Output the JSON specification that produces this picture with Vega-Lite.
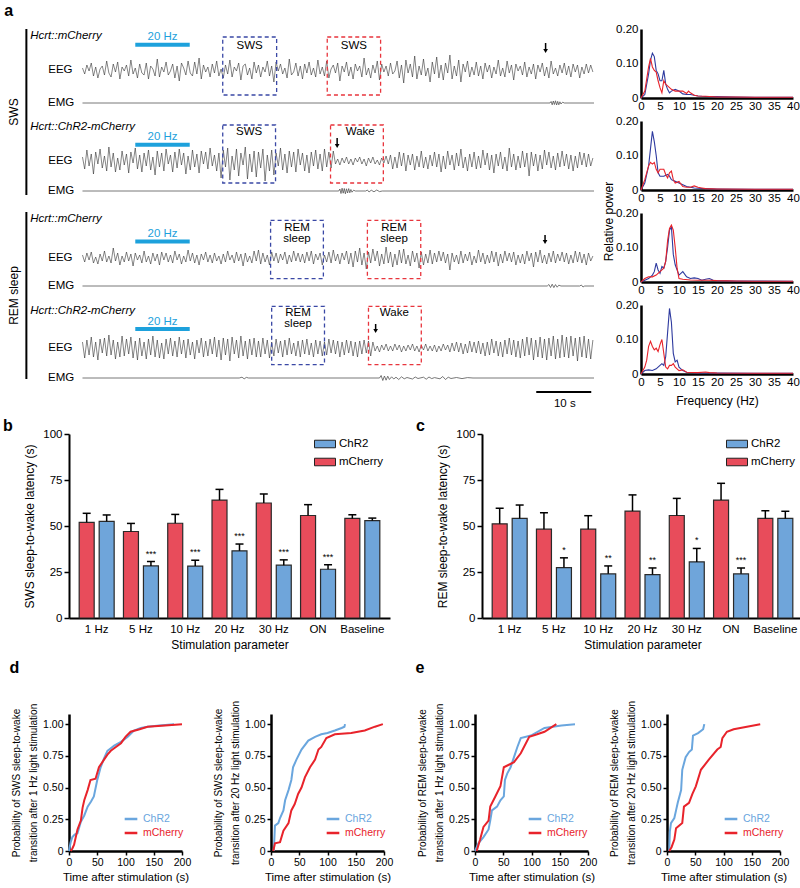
{
"$schema":"https://vega.github.io/schema/vega-lite/v6.json",
"background":"white",
"padding":{"left":3,"top":3,"right":0,"bottom":0},
"config":{"font":"Liberation Sans","view":{"stroke":null},
"axis":{"labelFontSize":11.5,"titleFontSize":11.5,"titleFontWeight":"normal","labelColor":"#000","titleColor":"#000","domainColor":"#000","tickColor":"#000","grid":false},
"legend":{"labelFontSize":11.5,"labelColor":"#000"},
"title":{"fontSize":16,"fontWeight":"bold","anchor":"start","color":"#000"}},
"datasets":{
"eeg":[{"t":[0,0.4,0.8,1.2,1.6,2,2.4,2.8,3.2,3.6,4,4.4,4.8,5.2,5.6,6,6.4,6.8,7.2,7.6,8,8.4,8.8,9.2,9.6,10,10.4,10.8,11.2,11.6,12,12.4,12.8,13.2,13.6,14,14.4,14.8,15.2,15.6,16,16.4,16.8,17.2,17.6,18,18.4,18.8,19.2,19.6,20,20.4,20.8,21.2,21.6,22,22.4,22.8,23.2,23.6,24,24.4,24.8,25.2,25.6,26,26.4,26.8,27.2,27.6,28,28.4,28.8,29.2,29.6,30,30.4,30.8,31.2,31.6,32,32.4,32.8,33.2,33.6,34,34.4,34.8,35.2,35.6,36,36.4,36.8,37.2,37.6,38,38.4,38.8,39.2,39.6,40,40.4,40.8,41.2,41.6,42,42.4,42.8,43.2,43.6,44,44.4,44.8,45.2,45.6,46,46.4,46.8,47.2,47.6,48,48.4,48.8,49.2,49.6,50,50.4,50.8,51.2,51.6,52,52.4,52.8,53.2,53.6,54,54.4,54.8,55.2,55.6,56,56.4,56.8,57.2,57.6,58,58.4,58.8,59.2,59.6,60,60.4,60.8,61.2,61.6,62,62.4,62.8,63.2,63.6,64,64.4,64.8,65.2,65.6,66,66.4,66.8,67.2,67.6,68,68.4,68.8,69.2,69.6,70,70.4,70.8,71.2,71.6,72,72.4,72.8,73.2,73.6,74,74.4,74.8,75.2,75.6,76,76.4,76.8,77.2,77.6,78,78.4,78.8,79.2,79.6,80,80.4,80.8,81.2,81.6,82,82.4,82.8,83.2,83.6,84,84.4,84.8,85.2,85.6,86,86.4,86.8,87.2,87.6,88,88.4,88.8,89.2,89.6,90,90.4,90.8,91.2,91.6,92,92.4,92.8],
"e1":[2,-4,5,-1,7,-6,3,-8,1,4,-5,9,-3,-7,6,-2,8,-9,3,-1,5,-6,10,-4,2,-8,6,-3,-5,7,-9,4,1,-6,11,-7,3,-2,8,-5,-1,6,-8,4,-11,7,2,-5,9,-3,-6,8,-4,12,-9,5,-2,3,-7,6,-3,9,-6,1,-8,5,-4,10,-7,3,-1,7,-10,4,6,-5,2,-9,8,-3,5,-7,3,-2,9,-6,4,-12,8,-1,6,-4,2,-8,11,-5,-2,7,-6,4,-9,6,-3,8,-5,2,-7,10,-4,3,-6,9,-8,1,5,-3,7,-11,4,-2,8,-6,3,-9,6,-1,4,-7,12,-5,2,-8,5,-3,9,-10,6,-2,4,-6,7,-4,-1,9,-8,5,-13,10,-3,6,-7,14,-9,4,-5,11,-6,2,-12,8,-4,13,-8,5,-10,7,-3,15,-9,4,-6,10,-12,6,-2,9,-7,3,-5,8,-6,4,-9,7,-2,5,-8,3,-4,10,-6,2,-7,9,-3,5,-10,6,-1,4,-5,8,-7,3,-4,6,-9,5,-2,7,-6,3,-8,9,-4,2,-6,5,-3,7,-5,4,-7,6,-2,5,-8,3,-4,6,-3,5,-2],
"e2":[4,-8,11,-5,7,-13,9,-3,12,-7,5,-10,14,-6,8,-11,3,-9,10,-4,7,-12,9,-2,13,-8,6,-11,8,-5,11,-9,4,-14,10,-6,8,-10,12,-3,6,-11,9,-7,12,-4,8,-13,5,-9,11,-6,7,-12,10,-3,9,-8,13,-5,6,-10,8,-17,11,-6,13,-19,5,-9,12,-15,8,-4,14,-18,7,-11,10,-16,9,-7,12,-20,6,-10,11,-14,8,-5,13,-9,7,-12,10,-6,9,-11,12,-4,8,-10,6,-12,9,-5,11,-8,7,-10,12,-6,9,-7,10,-3,2,-4,3,-2,4,-3,2,-4,3,-1,4,-3,2,-5,3,-2,4,-3,1,-4,3,-2,5,-3,6,-8,4,-7,9,-5,8,-10,6,-4,7,-9,5,-6,10,-7,4,-8,6,-5,9,-6,7,-11,5,-8,10,-4,6,-9,8,-5,12,-7,4,-10,7,-6,9,-8,5,-7,11,-4,8,-9,6,-12,7,-5,9,-8,4,-10,13,-6,7,-9,5,-7,10,-6,8,-15,9,-5,7,-10,6,-8,11,-4,9,-7,5,-9,8,-6,10,-5,7,-8,6,-10,5,-7,9,-4,8,-6,7,-5,3],
"e3":[3,-4,5,-2,6,-5,1,-6,4,-3,7,-4,2,-5,10,-3,5,-7,2,-4,6,-3,4,-8,5,-2,3,-5,7,-4,2,-6,5,-3,4,-7,6,-2,5,-4,3,-5,7,-2,4,-6,2,-4,8,-3,5,-5,3,-7,4,-2,6,-4,3,-5,5,-3,2,-6,4,-4,7,-2,3,-5,6,-3,4,-8,5,-4,2,-5,7,-3,8,-6,5,-4,3,-7,6,-3,5,-5,4,-2,6,-6,3,-4,7,-3,5,-4,4,-5,6,-3,7,-6,4,-2,5,-7,3,-4,6,-5,8,-3,4,-6,5,-2,7,-6,5,-9,7,-4,10,-7,5,-11,6,-5,9,-3,7,-8,4,-6,11,-5,6,-9,4,-7,8,-5,9,-6,3,-8,7,-4,5,-10,6,-7,4,-5,8,-6,5,-4,7,-3,6,-5,4,-12,5,-4,3,-6,7,-5,4,-3,6,-7,2,-5,8,-4,5,-6,3,-5,7,-4,6,-8,4,-5,7,-3,5,-4,6,-7,3,-5,4,-6,7,-3,5,-9,6,-4,8,-5,3,-6,5,-4,7,-5,4,-3,6,-4,5,-6,3,-5,7,-4,6,-5,4,-7,5,-3,2],
"e4":[6,-10,8,-7,11,-9,6,-12,9,-5,10,-8,13,-7,8,-11,6,-9,12,-8,9,-6,11,-10,7,-12,10,-8,6,-11,9,-7,12,-9,8,-10,5,-11,9,-6,10,-8,7,-9,11,-6,8,-10,9,-7,6,-11,8,-5,10,-9,7,-8,9,-6,11,-9,8,-12,10,-7,9,-13,11,-6,8,-10,12,-8,7,-11,9,-7,10,-9,7,-9,10,-6,8,-10,6,-8,9,-5,7,-9,8,-7,10,-6,5,-8,7,-9,8,-6,9,-7,5,-9,8,-6,7,-8,6,-7,9,-5,8,-6,7,-9,6,-7,8,-5,7,-8,6,-9,7,-6,8,-5,7,-8,6,-3,2,-4,3,-2,4,-3,2,-3,4,-2,3,-4,2,-3,3,-2,4,-3,2,-4,3,-2,4,-3,2,-3,3,-4,2,-3,4,-2,3,-4,5,-3,6,-4,5,-6,4,-5,7,-4,6,-5,7,-6,5,-8,6,-7,9,-5,7,-8,6,-9,8,-6,10,-7,8,-9,7,-10,9,-8,11,-7,10,-12,8,-9,11,-10,9,-12,10,-8,12,-11,9,-10,13,-9,11,-10,12,-8,10,-13,11,-9,12,-10,9,-11,8]}],
"emg":[
{"k":"m1","t":[0,85,85.2,85.4,85.6,85.8,86,86.2,86.4,86.6,86.8,87,87.3,87.6,93],"v":[0,0,1.5,-1.8,2,-1.5,2.2,-2,1.6,-1.8,1.2,-1,0.8,0,0]},
{"k":"m2","t":[0,46.6,46.8,47,47.2,47.4,47.6,47.8,48,48.2,48.4,48.6,48.8,49,49.3,49.6,51.5,51.8,52.1,52.5,53,53.5,54,54.5,93],"v":[0,0,2,-2.5,2.8,-2.2,2.5,-2.8,2.2,-2,2.4,-1.8,1.5,-1.2,0.8,0,0,1,-1,0.8,-0.8,1,-0.6,0,0]},
{"k":"m3","t":[0,84.5,84.8,85.1,85.4,85.7,86,86.3,86.6,87,90.4,90.7,91,91.3,93],"v":[0,0,1.5,-1.5,1.8,-1.6,1.4,-1.2,0.8,0,0,1,-1,0,0]},
{"k":"m4","t":[0,28.5,29,29.4,29.8,30.2,54,54.3,54.6,54.9,55.2,55.5,55.8,56.2,56.6,57,57.5,58,58.5,59,60,60.5,61,62,62.5,63,63.5,64,65,65.5,66,66.5,67,68,69,70,71,93],"v":[0,0,0.8,-0.8,0.6,0,0,2.5,-2.5,2,-2.2,1.8,-1.5,1.2,-1,0.8,-1.5,1.2,-0.8,0.5,-1,1,-0.5,0.8,-1.2,1,-0.6,0.4,-0.8,1.5,-1.5,0.8,-0.5,0.5,-0.6,0.4,0,0]}],
"spec":[
{"p":1,"s":"pre","f":[0,1,2,2.5,3,3.5,4,4.5,5,5.5,6,6.5,7,7.5,8,9,10,11,12,13,14,15,16,18,20,25,30,35,40],"v":[0,0.01,0.07,0.11,0.13,0.12,0.08,0.07,0.05,0.05,0.08,0.04,0.025,0.015,0.02,0.025,0.02,0.012,0.01,0.01,0.008,0.006,0.005,0.004,0.004,0.003,0.002,0.002,0.002]},
{"p":1,"s":"post","f":[0,1,2,2.5,3,3.5,4,4.5,5,5.5,6,6.5,7,8,9,10,11,12,12.5,13,14,15,17,20,25,30,40],"v":[0,0.02,0.09,0.115,0.09,0.08,0.075,0.05,0.03,0.015,0.05,0.04,0.035,0.025,0.02,0.02,0.02,0.013,0.02,0.015,0.008,0.006,0.005,0.003,0.003,0.002,0.002]},
{"p":2,"s":"pre","f":[0,1,2,2.5,3,3.5,4,4.5,5,5.5,6,7,7.5,8,9,10,11,12,13,14,15,17,20,30,40],"v":[0,0.02,0.07,0.12,0.17,0.14,0.1,0.05,0.04,0.04,0.04,0.045,0.04,0.03,0.025,0.02,0.015,0.01,0.008,0.006,0.005,0.004,0.003,0.002,0.002]},
{"p":2,"s":"post","f":[0,1,2,2.5,3,3.5,4,4.5,5,6,6.5,7,7.5,8,8.5,9,10,11,12,13,14,15,16,17,20,30,40],"v":[0,0.03,0.07,0.08,0.075,0.08,0.06,0.05,0.06,0.06,0.045,0.035,0.05,0.055,0.03,0.02,0.025,0.01,0.008,0.008,0.012,0.008,0.006,0.004,0.003,0.002,0.002]},
{"p":3,"s":"pre","f":[0,1,2,3,3.5,4,4.5,5,5.5,6,6.5,7,7.5,8,8.5,9,10,11,12,13,14,15,16,17,18,19,20,25,30,40],"v":[0,0.005,0.01,0.02,0.03,0.055,0.035,0.025,0.045,0.04,0.06,0.1,0.15,0.16,0.08,0.05,0.02,0.03,0.015,0.01,0.012,0.01,0.005,0.008,0.01,0.005,0.004,0.003,0.003,0.002]},
{"p":3,"s":"post","f":[0,1,2,3,4,5,6,6.5,7,7.5,8,8.5,9,9.5,10,11,13,15,18,20,25,30,40],"v":[0,0.01,0.015,0.015,0.02,0.03,0.04,0.06,0.12,0.155,0.165,0.15,0.1,0.04,0.01,0.008,0.006,0.005,0.005,0.004,0.003,0.002,0.002]},
{"p":4,"s":"pre","f":[0,1,2,3,4,5,5.5,6,6.5,7,7.5,8,8.5,9,9.5,10,11,12,15,20,30,40],"v":[0,0.01,0.012,0.01,0.015,0.025,0.03,0.025,0.05,0.12,0.19,0.15,0.06,0.035,0.04,0.02,0.01,0.005,0.003,0.003,0.002,0.002]},
{"p":4,"s":"post","f":[0,1,1.5,2,2.5,3,3.5,4,4.5,5,5.5,6,6.5,7,7.5,8,8.5,9,10,11,12,15,17,18,20,30,40],"v":[0,0.02,0.04,0.08,0.095,0.08,0.07,0.075,0.065,0.085,0.1,0.06,0.02,0.015,0.025,0.025,0.03,0.02,0.01,0.012,0.005,0.004,0.006,0.004,0.003,0.002,0.002]}],
"ecdf":[
{"p":"d1","s":"ChR2","t":[0,3,6,10,15,21,27,33,39,44,50,56,62,68,74,80,92,104,115,127,139,160,186],"v":[0,0.07,0.11,0.13,0.14,0.23,0.28,0.35,0.39,0.43,0.56,0.66,0.73,0.79,0.81,0.83,0.86,0.9,0.95,0.97,0.98,0.99,1.0]},
{"p":"d1","s":"mCherry","t":[3,6,9,15,21,24,27,33,38,47,53,62,68,74,83,92,100,109,125,139,170,200],"v":[0,0.02,0.05,0.17,0.24,0.34,0.4,0.48,0.56,0.57,0.66,0.72,0.76,0.79,0.82,0.85,0.9,0.94,0.96,0.98,0.99,1.0]},
{"p":"d2","s":"ChR2","t":[5,6,7,13,16,22,25,31,36,39,45,54,66,78,89,100,113,125,130,131],"v":[0,0.1,0.2,0.22,0.26,0.32,0.4,0.48,0.56,0.66,0.72,0.8,0.87,0.9,0.92,0.93,0.95,0.97,0.98,1.0]},
{"p":"d2","s":"mCherry","t":[4,7,16,22,31,36,42,48,54,60,69,78,84,89,98,113,142,166,184,198],"v":[0,0.06,0.07,0.16,0.22,0.32,0.37,0.45,0.5,0.58,0.66,0.72,0.8,0.82,0.89,0.92,0.93,0.95,0.98,1.0]},
{"p":"e1","s":"ChR2","t":[0,6,15,24,27,30,39,45,51,53,57,63,69,75,81,99,123,153,177],"v":[0,0.06,0.11,0.17,0.24,0.32,0.35,0.4,0.43,0.56,0.61,0.66,0.74,0.82,0.89,0.91,0.97,0.99,1.0]},
{"p":"e1","s":"mCherry","t":[3,9,15,24,27,36,45,51,60,69,81,96,110,123,144],"v":[0,0.09,0.19,0.24,0.35,0.43,0.51,0.66,0.68,0.7,0.77,0.9,0.92,0.94,1.0]},
{"p":"e2","s":"ChR2","t":[4,5,7,13,16,19,25,27,33,39,44,46,55,64,66],"v":[0,0.15,0.22,0.26,0.32,0.38,0.48,0.64,0.74,0.78,0.8,0.91,0.93,0.96,1.0]},
{"p":"e2","s":"mCherry","t":[4,8,13,16,27,30,39,45,51,60,74,89,95,98,106,118,165],"v":[0,0.03,0.09,0.18,0.22,0.35,0.38,0.45,0.51,0.64,0.72,0.8,0.82,0.89,0.94,0.96,1.0]}]
},
"columns":1,"align":"none","spacing":8,
"resolve":{"scale":{"color":"independent","stroke":"independent"},"legend":{"color":"independent","stroke":"independent"}},
"concat":[
{"title":{"text":"a","dx":-4},"spacing":6,
 "resolve":{"scale":{"color":"independent","stroke":"independent"},"legend":{"color":"independent","stroke":"independent"}},
 "hconcat":[
 {"spacing":17,"bounds":"flush","vconcat":[
  {"width":525,"height":166,"resolve":{"scale":{"y":"independent"}},"layer":[
   {"encoding":{"x":{"field":"t","type":"quantitative","scale":{"domain":[-2.45,93]},"axis":null},"y":{"field":"v","type":"quantitative","scale":{"domain":[-125,41]},"axis":null}},
    "layer":[
     {"data":{"name":"eeg"},"transform":[{"flatten":["t","e1","e2","e3","e4"]},{"fold":["e1","e2","e3","e4"],"as":["k","v"]},{"filter":"datum.k==='e1'"}],"mark":{"type":"line","color":"#333","strokeWidth":0.6}},
     {"data":{"values":[{"t":-10.2,"v":41,"v2":-125}]},"mark":{"type":"rule","strokeWidth":2,"color":"#000"},"encoding":{"y2":{"field":"v2"}}},
     {"data":{"values":[{"t":-12.4,"v":-42,"l":"SWS"}]},"mark":{"type":"text","angle":270,"fontSize":12},"encoding":{"text":{"field":"l"}}},
     {"data":{"values":[{"t":25.5,"t2":35.3,"v":33,"v2":-25,"w":"pre"},{"t":44.5,"t2":54.2,"v":33,"v2":-25,"w":"post"}]},"mark":{"type":"rect","fillOpacity":0,"strokeWidth":1.3,"strokeDash":[4,3]},"encoding":{"x2":{"field":"t2"},"y2":{"field":"v2"},"stroke":{"field":"w","type":"nominal","scale":{"domain":["pre","post"],"range":["#3A48A5","#E8353D"]},"legend":null}}},
     {"data":{"values":[{"t":30.4,"v":24.5,"l":"SWS"},{"t":49.35,"v":24.5,"l":"SWS"}]},"mark":{"type":"text","fontSize":11.5},"encoding":{"text":{"field":"l"}}},
     {"data":{"values":[{"t":-9.5,"v":34,"l":"Hcrt::mCherry"}]},"mark":{"type":"text","align":"left","fontStyle":"italic","fontSize":11.5},"encoding":{"text":{"field":"l"}}},
     {"data":{"values":[{"t":-1.8,"v":0,"l":"EEG"}]},"mark":{"type":"text","align":"right","fontSize":11.5},"encoding":{"text":{"field":"l"}}},
     {"data":{"values":[{"t":9.6,"t2":19.5,"v":25.3}]},"mark":{"type":"rule","strokeWidth":4,"color":"#1DA1DC"},"encoding":{"x2":{"field":"t2"}}},
     {"data":{"values":[{"t":14.55,"v":33,"l":"20 Hz"}]},"mark":{"type":"text","fontSize":11.5,"color":"#1DA1DC"},"encoding":{"text":{"field":"l"}}},
     {"data":{"values":[{"t":84.2,"v":27,"v2":20}]},"mark":{"type":"rule","strokeWidth":1.5,"color":"#000"},"encoding":{"y2":{"field":"v2"}}},
     {"data":{"values":[{"t":84.2,"v":19}]},"mark":{"type":"point","shape":"triangle-down","filled":true,"size":22,"color":"#000","opacity":1}}
    ]},
   {"encoding":{"x":{"field":"t","type":"quantitative","scale":{"domain":[-2.45,93]},"axis":null},"y":{"field":"v","type":"quantitative","scale":{"domain":[-92,74]},"axis":null}},
    "layer":[
     {"data":{"name":"emg"},"transform":[{"filter":"datum.k==='m1'"},{"flatten":["t","v"]}],"mark":{"type":"line","color":"#555","strokeWidth":0.8}},
     {"data":{"values":[{"t":-1.5,"v":0,"l":"EMG"}]},"mark":{"type":"text","align":"right","fontSize":11.5},"encoding":{"text":{"field":"l"}}}
    ]},
   {"encoding":{"x":{"field":"t","type":"quantitative","scale":{"domain":[-2.45,93]},"axis":null},"y":{"field":"v","type":"quantitative","scale":{"domain":[-34,132]},"axis":null}},
    "layer":[
     {"data":{"name":"eeg"},"transform":[{"flatten":["t","e1","e2","e3","e4"]},{"fold":["e1","e2","e3","e4"],"as":["k","v"]},{"filter":"datum.k==='e2'"}],"mark":{"type":"line","color":"#333","strokeWidth":0.6}},
     {"data":{"values":[{"t":25.5,"t2":35.1,"v":36,"v2":-22,"w":"pre"},{"t":45.1,"t2":54.7,"v":36,"v2":-22,"w":"post"}]},"mark":{"type":"rect","fillOpacity":0,"strokeWidth":1.3,"strokeDash":[4,3]},"encoding":{"x2":{"field":"t2"},"y2":{"field":"v2"},"stroke":{"field":"w","type":"nominal","scale":{"domain":["pre","post"],"range":["#3A48A5","#E8353D"]},"legend":null}}},
     {"data":{"values":[{"t":30.3,"v":29,"l":"SWS"},{"t":50.5,"v":29,"l":"Wake"}]},"mark":{"type":"text","fontSize":11.5},"encoding":{"text":{"field":"l"}}},
     {"data":{"values":[{"t":-9.5,"v":34,"l":"Hcrt::ChR2-mCherry"}]},"mark":{"type":"text","align":"left","fontStyle":"italic","fontSize":11.5},"encoding":{"text":{"field":"l"}}},
     {"data":{"values":[{"t":-1.8,"v":0,"l":"EEG"}]},"mark":{"type":"text","align":"right","fontSize":11.5},"encoding":{"text":{"field":"l"}}},
     {"data":{"values":[{"t":9.6,"t2":19.5,"v":16.3}]},"mark":{"type":"rule","strokeWidth":4,"color":"#1DA1DC"},"encoding":{"x2":{"field":"t2"}}},
     {"data":{"values":[{"t":14.55,"v":24,"l":"20 Hz"}]},"mark":{"type":"text","fontSize":11.5,"color":"#1DA1DC"},"encoding":{"text":{"field":"l"}}},
     {"data":{"values":[{"t":46.3,"v":23,"v2":16}]},"mark":{"type":"rule","strokeWidth":1.5,"color":"#000"},"encoding":{"y2":{"field":"v2"}}},
     {"data":{"values":[{"t":46.3,"v":15}]},"mark":{"type":"point","shape":"triangle-down","filled":true,"size":22,"color":"#000","opacity":1}}
    ]},
   {"encoding":{"x":{"field":"t","type":"quantitative","scale":{"domain":[-2.45,93]},"axis":null},"y":{"field":"v","type":"quantitative","scale":{"domain":[-4,162]},"axis":null}},
    "layer":[
     {"data":{"name":"emg"},"transform":[{"filter":"datum.k==='m2'"},{"flatten":["t","v"]}],"mark":{"type":"line","color":"#555","strokeWidth":0.8}},
     {"data":{"values":[{"t":-1.5,"v":0,"l":"EMG"}]},"mark":{"type":"text","align":"right","fontSize":11.5},"encoding":{"text":{"field":"l"}}}
    ]}
  ]},
  {"width":525,"height":167,"resolve":{"scale":{"y":"independent"}},"layer":[
   {"encoding":{"x":{"field":"t","type":"quantitative","scale":{"domain":[-2.45,93]},"axis":null},"y":{"field":"v","type":"quantitative","scale":{"domain":[-121,46]},"axis":null}},
    "layer":[
     {"data":{"name":"eeg"},"transform":[{"flatten":["t","e1","e2","e3","e4"]},{"fold":["e1","e2","e3","e4"],"as":["k","v"]},{"filter":"datum.k==='e3'"}],"mark":{"type":"line","color":"#333","strokeWidth":0.6}},
     {"data":{"values":[{"t":-10.2,"v":46,"v2":-121}]},"mark":{"type":"rule","strokeWidth":2,"color":"#000"},"encoding":{"y2":{"field":"v2"}}},
     {"data":{"values":[{"t":-12.4,"v":-37.5,"l":"REM sleep"}]},"mark":{"type":"text","angle":270,"fontSize":12},"encoding":{"text":{"field":"l"}}},
     {"data":{"values":[{"t":34.2,"t2":43.8,"v":37.7,"v2":-20.7,"w":"pre"},{"t":51.8,"t2":61.5,"v":37.7,"v2":-20.7,"w":"post"}]},"mark":{"type":"rect","fillOpacity":0,"strokeWidth":1.3,"strokeDash":[4,3]},"encoding":{"x2":{"field":"t2"},"y2":{"field":"v2"},"stroke":{"field":"w","type":"nominal","scale":{"domain":["pre","post"],"range":["#3A48A5","#E8353D"]},"legend":null}}},
     {"data":{"values":[{"t":39,"v":30,"l":"REM"},{"t":39,"v":19,"l":"sleep"},{"t":56.65,"v":30,"l":"REM"},{"t":56.65,"v":19,"l":"sleep"}]},"mark":{"type":"text","fontSize":11.5},"encoding":{"text":{"field":"l"}}},
     {"data":{"values":[{"t":-9.5,"v":39,"l":"Hcrt::mCherry"}]},"mark":{"type":"text","align":"left","fontStyle":"italic","fontSize":11.5},"encoding":{"text":{"field":"l"}}},
     {"data":{"values":[{"t":-1.8,"v":0,"l":"EEG"}]},"mark":{"type":"text","align":"right","fontSize":11.5},"encoding":{"text":{"field":"l"}}},
     {"data":{"values":[{"t":9.6,"t2":19.5,"v":16.5}]},"mark":{"type":"rule","strokeWidth":4,"color":"#1DA1DC"},"encoding":{"x2":{"field":"t2"}}},
     {"data":{"values":[{"t":14.55,"v":24,"l":"20 Hz"}]},"mark":{"type":"text","fontSize":11.5,"color":"#1DA1DC"},"encoding":{"text":{"field":"l"}}},
     {"data":{"values":[{"t":84.1,"v":23,"v2":17}]},"mark":{"type":"rule","strokeWidth":1.5,"color":"#000"},"encoding":{"y2":{"field":"v2"}}},
     {"data":{"values":[{"t":84.1,"v":16}]},"mark":{"type":"point","shape":"triangle-down","filled":true,"size":22,"color":"#000","opacity":1}}
    ]},
   {"encoding":{"x":{"field":"t","type":"quantitative","scale":{"domain":[-2.45,93]},"axis":null},"y":{"field":"v","type":"quantitative","scale":{"domain":[-93,74]},"axis":null}},
    "layer":[
     {"data":{"name":"emg"},"transform":[{"filter":"datum.k==='m3'"},{"flatten":["t","v"]}],"mark":{"type":"line","color":"#555","strokeWidth":0.8}},
     {"data":{"values":[{"t":-1.5,"v":0,"l":"EMG"}]},"mark":{"type":"text","align":"right","fontSize":11.5},"encoding":{"text":{"field":"l"}}}
    ]},
   {"encoding":{"x":{"field":"t","type":"quantitative","scale":{"domain":[-2.45,93]},"axis":null},"y":{"field":"v","type":"quantitative","scale":{"domain":[-31,136]},"axis":null}},
    "layer":[
     {"data":{"name":"eeg"},"transform":[{"flatten":["t","e1","e2","e3","e4"]},{"fold":["e1","e2","e3","e4"],"as":["k","v"]},{"filter":"datum.k==='e4'"}],"mark":{"type":"line","color":"#333","strokeWidth":0.6}},
     {"data":{"values":[{"t":34.4,"t2":44,"v":41.7,"v2":-16.7,"w":"pre"},{"t":52,"t2":61.6,"v":41.7,"v2":-16.7,"w":"post"}]},"mark":{"type":"rect","fillOpacity":0,"strokeWidth":1.3,"strokeDash":[4,3]},"encoding":{"x2":{"field":"t2"},"y2":{"field":"v2"},"stroke":{"field":"w","type":"nominal","scale":{"domain":["pre","post"],"range":["#3A48A5","#E8353D"]},"legend":null}}},
     {"data":{"values":[{"t":39.2,"v":35,"l":"REM"},{"t":39.2,"v":24,"l":"sleep"},{"t":56.7,"v":35,"l":"Wake"}]},"mark":{"type":"text","fontSize":11.5},"encoding":{"text":{"field":"l"}}},
     {"data":{"values":[{"t":-9.5,"v":37,"l":"Hcrt::ChR2-mCherry"}]},"mark":{"type":"text","align":"left","fontStyle":"italic","fontSize":11.5},"encoding":{"text":{"field":"l"}}},
     {"data":{"values":[{"t":-1.8,"v":0,"l":"EEG"}]},"mark":{"type":"text","align":"right","fontSize":11.5},"encoding":{"text":{"field":"l"}}},
     {"data":{"values":[{"t":9.6,"t2":19.5,"v":19}]},"mark":{"type":"rule","strokeWidth":4,"color":"#1DA1DC"},"encoding":{"x2":{"field":"t2"}}},
     {"data":{"values":[{"t":14.55,"v":26.5,"l":"20 Hz"}]},"mark":{"type":"text","fontSize":11.5,"color":"#1DA1DC"},"encoding":{"text":{"field":"l"}}},
     {"data":{"values":[{"t":53.3,"v":24,"v2":18}]},"mark":{"type":"rule","strokeWidth":1.5,"color":"#000"},"encoding":{"y2":{"field":"v2"}}},
     {"data":{"values":[{"t":53.3,"v":17}]},"mark":{"type":"point","shape":"triangle-down","filled":true,"size":22,"color":"#000","opacity":1}},
     {"data":{"values":[{"t":82.5,"t2":92.5,"v":-44}]},"mark":{"type":"rule","strokeWidth":2,"color":"#000"},"encoding":{"x2":{"field":"t2"}}},
     {"data":{"values":[{"t":87.7,"v":-56,"l":"10 s"}]},"mark":{"type":"text","fontSize":11.5},"encoding":{"text":{"field":"l"}}}
    ]},
   {"encoding":{"x":{"field":"t","type":"quantitative","scale":{"domain":[-2.45,93]},"axis":null},"y":{"field":"v","type":"quantitative","scale":{"domain":[-1,166]},"axis":null}},
    "layer":[
     {"data":{"name":"emg"},"transform":[{"filter":"datum.k==='m4'"},{"flatten":["t","v"]}],"mark":{"type":"line","color":"#555","strokeWidth":0.8}},
     {"data":{"values":[{"t":-1.5,"v":0,"l":"EMG"}]},"mark":{"type":"text","align":"right","fontSize":11.5},"encoding":{"text":{"field":"l"}}}
    ]}
  ]}
 ]},
 {"spacing":23,"bounds":"flush","vconcat":[
  {"width":152,"height":69,"data":{"name":"spec"},"transform":[{"filter":"datum.p===1"},{"flatten":["f","v"]}],"mark":{"type":"line","strokeWidth":1.1},
   "encoding":{"x":{"field":"f","type":"quantitative","scale":{"domain":[0,40]},"axis":{"values":[0,5,10,15,20,25,30,35,40],"title":null,"ticks":false,"domainWidth":2.5,"labelPadding":2,"labelFlush":false}},
   "y":{"field":"v","type":"quantitative","scale":{"domain":[0,0.2]},"axis":{"values":[0,0.1,0.2],"labelExpr":"datum.value===0?'0':format(datum.value,'.2f')","title":null,"ticks":false,"domainWidth":2.5,"labelPadding":3,"labelFlush":false}},
   "color":{"field":"s","type":"nominal","scale":{"domain":["pre","post"],"range":["#2E3A9F","#E8232B"]},"legend":null}}},
  {"width":152,"height":69,"data":{"name":"spec"},"transform":[{"filter":"datum.p===2"},{"flatten":["f","v"]}],"mark":{"type":"line","strokeWidth":1.1},
   "encoding":{"x":{"field":"f","type":"quantitative","scale":{"domain":[0,40]},"axis":{"values":[0,5,10,15,20,25,30,35,40],"title":null,"ticks":false,"domainWidth":2.5,"labelPadding":2,"labelFlush":false}},
   "y":{"field":"v","type":"quantitative","scale":{"domain":[0,0.2]},"axis":{"values":[0,0.1,0.2],"labelExpr":"datum.value===0?'0':format(datum.value,'.2f')","title":"Relative power","titleFontSize":12,"titleY":100,"titlePadding":0,"ticks":false,"domainWidth":2.5,"labelPadding":3,"labelFlush":false}},
   "color":{"field":"s","type":"nominal","scale":{"domain":["pre","post"],"range":["#2E3A9F","#E8232B"]},"legend":null}}},
  {"width":152,"height":69,"data":{"name":"spec"},"transform":[{"filter":"datum.p===3"},{"flatten":["f","v"]}],"mark":{"type":"line","strokeWidth":1.1},
   "encoding":{"x":{"field":"f","type":"quantitative","scale":{"domain":[0,40]},"axis":{"values":[0,5,10,15,20,25,30,35,40],"title":null,"ticks":false,"domainWidth":2.5,"labelPadding":2,"labelFlush":false}},
   "y":{"field":"v","type":"quantitative","scale":{"domain":[0,0.2]},"axis":{"values":[0,0.1,0.2],"labelExpr":"datum.value===0?'0':format(datum.value,'.2f')","title":null,"ticks":false,"domainWidth":2.5,"labelPadding":3,"labelFlush":false}},
   "color":{"field":"s","type":"nominal","scale":{"domain":["pre","post"],"range":["#2E3A9F","#E8232B"]},"legend":null}}},
  {"width":152,"height":69,"data":{"name":"spec"},"transform":[{"filter":"datum.p===4"},{"flatten":["f","v"]}],"mark":{"type":"line","strokeWidth":1.1},
   "encoding":{"x":{"field":"f","type":"quantitative","scale":{"domain":[0,40]},"axis":{"values":[0,5,10,15,20,25,30,35,40],"title":"Frequency (Hz)","titleFontSize":12,"titlePadding":8,"ticks":false,"domainWidth":2.5,"labelPadding":2,"labelFlush":false}},
   "y":{"field":"v","type":"quantitative","scale":{"domain":[0,0.2]},"axis":{"values":[0,0.1,0.2],"labelExpr":"datum.value===0?'0':format(datum.value,'.2f')","title":null,"ticks":false,"domainWidth":2.5,"labelPadding":3,"labelFlush":false}},
   "color":{"field":"s","type":"nominal","scale":{"domain":["pre","post"],"range":["#2E3A9F","#E8232B"]},"legend":null}}}
 ]}
]},
{"spacing":26,
 "resolve":{"scale":{"color":"independent"},"legend":{"color":"independent"}},
 "hconcat":[
 {"title":{"text":"b","frame":"group","dx":-66,"offset":-6},"width":321,"height":184,
  "data":{"values":[
   {"p":"1 Hz","g":"mCherry","m":52,"e":56.9,"s":""},{"p":"1 Hz","g":"ChR2","m":52.5,"e":56,"s":""},
   {"p":"5 Hz","g":"mCherry","m":47,"e":51.4,"s":""},{"p":"5 Hz","g":"ChR2","m":28.3,"e":30.7,"s":"***"},
   {"p":"10 Hz","g":"mCherry","m":51.5,"e":56.3,"s":""},{"p":"10 Hz","g":"ChR2","m":28.2,"e":31.4,"s":"***"},
   {"p":"20 Hz","g":"mCherry","m":64.1,"e":69.9,"s":""},{"p":"20 Hz","g":"ChR2","m":36.5,"e":40.2,"s":"***"},
   {"p":"30 Hz","g":"mCherry","m":62.5,"e":67.4,"s":""},{"p":"30 Hz","g":"ChR2","m":28.7,"e":31.6,"s":"***"},
   {"p":"ON","g":"mCherry","m":55.7,"e":61.6,"s":""},{"p":"ON","g":"ChR2","m":26.5,"e":28.9,"s":"***"},
   {"p":"Baseline","g":"mCherry","m":54.1,"e":56.1,"s":""},{"p":"Baseline","g":"ChR2","m":52.9,"e":54.3,"s":""}]},
  "encoding":{"x":{"field":"p","type":"nominal","sort":["1 Hz","5 Hz","10 Hz","20 Hz","30 Hz","ON","Baseline"],"scale":{"paddingInner":0.21,"paddingOuter":0.23},"axis":{"title":"Stimulation parameter","titleFontSize":12,"labelAngle":0,"ticks":false,"domainWidth":2,"labelPadding":5,"titlePadding":5}},
   "xOffset":{"field":"g","type":"nominal","sort":["mCherry","ChR2"],"scale":{"paddingInner":0.25,"paddingOuter":0}}},
  "layer":[
   {"mark":{"type":"bar","stroke":"#2a2a2a","strokeWidth":1.2},"encoding":{"y":{"field":"m","type":"quantitative","scale":{"domain":[0,100]},"axis":{"values":[0,25,50,75,100],"title":"SWS sleep-to-wake latency (s)","titleFontSize":12,"domainWidth":2,"tickWidth":1.5,"tickSize":5,"labelPadding":2,"titlePadding":6}},
    "color":{"field":"g","type":"nominal","scale":{"domain":["ChR2","mCherry"],"range":["#6FA5DA","#E84C5B"]},"legend":{"orient":"none","legendX":245,"legendY":-1,"title":null,"symbolType":"M-1,-0.36H1V0.36H-1Z","symbolSize":441,"symbolStrokeColor":"#222","symbolStrokeWidth":1,"symbolOpacity":1,"rowPadding":1,"labelOffset":3}}}},
   {"mark":{"type":"rule","strokeWidth":1.5,"color":"#000"},"encoding":{"y":{"field":"m","type":"quantitative"},"y2":{"field":"e"}}},
   {"mark":{"type":"tick","thickness":1.5,"size":8,"color":"#000","opacity":1},"encoding":{"y":{"field":"e","type":"quantitative"}}},
   {"transform":[{"filter":"datum.s!==''"}],"mark":{"type":"text","dy":-3,"baseline":"bottom","fontSize":9},"encoding":{"y":{"field":"e","type":"quantitative"},"text":{"field":"s"}}}
  ]},
 {"title":{"text":"c","frame":"group","dx":-66,"offset":-6},"width":321,"height":184,
  "data":{"values":[
   {"p":"1 Hz","g":"mCherry","m":51.2,"e":59.6,"s":""},{"p":"1 Hz","g":"ChR2","m":54.1,"e":61.4,"s":""},
   {"p":"5 Hz","g":"mCherry","m":48.3,"e":57.2,"s":""},{"p":"5 Hz","g":"ChR2","m":27.4,"e":32.7,"s":"*"},
   {"p":"10 Hz","g":"mCherry","m":48.3,"e":55.6,"s":""},{"p":"10 Hz","g":"ChR2","m":24,"e":28.3,"s":"**"},
   {"p":"20 Hz","g":"mCherry","m":58.1,"e":66.9,"s":""},{"p":"20 Hz","g":"ChR2","m":23.6,"e":27.2,"s":"**"},
   {"p":"30 Hz","g":"mCherry","m":55.7,"e":65,"s":""},{"p":"30 Hz","g":"ChR2","m":30.5,"e":37.8,"s":"*"},
   {"p":"ON","g":"mCherry","m":64.1,"e":73.2,"s":""},{"p":"ON","g":"ChR2","m":24,"e":27.2,"s":"***"},
   {"p":"Baseline","g":"mCherry","m":54.1,"e":58.3,"s":""},{"p":"Baseline","g":"ChR2","m":54.1,"e":58,"s":""}]},
  "encoding":{"x":{"field":"p","type":"nominal","sort":["1 Hz","5 Hz","10 Hz","20 Hz","30 Hz","ON","Baseline"],"scale":{"paddingInner":0.21,"paddingOuter":0.23},"axis":{"title":"Stimulation parameter","titleFontSize":12,"labelAngle":0,"ticks":false,"domainWidth":2,"labelPadding":5,"titlePadding":5}},
   "xOffset":{"field":"g","type":"nominal","sort":["mCherry","ChR2"],"scale":{"paddingInner":0.25,"paddingOuter":0}}},
  "layer":[
   {"mark":{"type":"bar","stroke":"#2a2a2a","strokeWidth":1.2},"encoding":{"y":{"field":"m","type":"quantitative","scale":{"domain":[0,100]},"axis":{"values":[0,25,50,75,100],"title":"REM sleep-to-wake latency (s)","titleFontSize":12,"domainWidth":2,"tickWidth":1.5,"tickSize":5,"labelPadding":2,"titlePadding":6}},
    "color":{"field":"g","type":"nominal","scale":{"domain":["ChR2","mCherry"],"range":["#6FA5DA","#E84C5B"]},"legend":{"orient":"none","legendX":244,"legendY":-1,"title":null,"symbolType":"M-1,-0.36H1V0.36H-1Z","symbolSize":441,"symbolStrokeColor":"#222","symbolStrokeWidth":1,"symbolOpacity":1,"rowPadding":1,"labelOffset":3}}}},
   {"mark":{"type":"rule","strokeWidth":1.5,"color":"#000"},"encoding":{"y":{"field":"m","type":"quantitative"},"y2":{"field":"e"}}},
   {"mark":{"type":"tick","thickness":1.5,"size":8,"color":"#000","opacity":1},"encoding":{"y":{"field":"e","type":"quantitative"}}},
   {"transform":[{"filter":"datum.s!==''"}],"mark":{"type":"text","dy":-3,"baseline":"bottom","fontSize":9},"encoding":{"y":{"field":"e","type":"quantitative"},"text":{"field":"s"}}}
  ]}
]},
{"spacing":22,
 "resolve":{"scale":{"color":"independent"},"legend":{"color":"independent"}},
 "hconcat":[
 {"title":{"text":"d","dx":-2,"offset":25},"spacing":22,
  "resolve":{"scale":{"color":"independent"},"legend":{"color":"independent"}},
  "hconcat":[
  {"width":113,"height":137,"data":{"name":"ecdf"},"transform":[{"filter":"datum.p==='d1'"},{"flatten":["t","v"]}],"mark":{"type":"line","strokeWidth":2},
   "encoding":{"x":{"field":"t","type":"quantitative","scale":{"domain":[0,200]},"axis":{"values":[0,50,100,150,200],"title":"Time after stimulation (s)","domainWidth":2.5,"tickSize":4,"tickWidth":1.5,"labelFontSize":10.5,"titlePadding":4,"labelFlush":false}},
   "y":{"field":"v","type":"quantitative","scale":{"domain":[0,1.08]},"axis":{"values":[0,0.25,0.5,0.75,1],"labelExpr":"datum.value===0?'0':format(datum.value,'.2f')","title":["Probability of SWS sleep-to-wake","transition after 1 Hz light stimulation"],"titleFontSize":10,"titleLineHeight":17,"domainWidth":2.5,"tickSize":4,"tickWidth":1.5,"labelFontSize":10.5,"titlePadding":4}},
   "color":{"field":"s","type":"nominal","scale":{"domain":["ChR2","mCherry"],"range":["#6AA6DE","#E8232B"]},"legend":{"orient":"none","legendX":54,"legendY":97,"title":null,"symbolType":"stroke","symbolStrokeWidth":2.5,"symbolSize":160,"labelFontSize":10.5,"rowPadding":0,"labelOffset":4,"encode":{"labels":{"update":{"fill":{"signal":"datum.value==='ChR2'?'#6AA6DE':'#E8232B'"}}}}}}}},
  {"width":113,"height":137,"data":{"name":"ecdf"},"transform":[{"filter":"datum.p==='d2'"},{"flatten":["t","v"]}],"mark":{"type":"line","strokeWidth":2},
   "encoding":{"x":{"field":"t","type":"quantitative","scale":{"domain":[0,200]},"axis":{"values":[0,50,100,150,200],"title":"Time after stimulation (s)","domainWidth":2.5,"tickSize":4,"tickWidth":1.5,"labelFontSize":10.5,"titlePadding":4,"labelFlush":false}},
   "y":{"field":"v","type":"quantitative","scale":{"domain":[0,1.08]},"axis":{"values":[0,0.25,0.5,0.75,1],"labelExpr":"datum.value===0?'0':format(datum.value,'.2f')","title":["Probability of SWS sleep-to-wake","transition after 20 Hz light stimulation"],"titleFontSize":10,"titleLineHeight":17,"domainWidth":2.5,"tickSize":4,"tickWidth":1.5,"labelFontSize":10.5,"titlePadding":4}},
   "color":{"field":"s","type":"nominal","scale":{"domain":["ChR2","mCherry"],"range":["#6AA6DE","#E8232B"]},"legend":{"orient":"none","legendX":54,"legendY":97,"title":null,"symbolType":"stroke","symbolStrokeWidth":2.5,"symbolSize":160,"labelFontSize":10.5,"rowPadding":0,"labelOffset":4,"encode":{"labels":{"update":{"fill":{"signal":"datum.value==='ChR2'?'#6AA6DE':'#E8232B'"}}}}}}}}
 ]},
 {"title":{"text":"e","dx":-2,"offset":25},"spacing":12,
  "resolve":{"scale":{"color":"independent"},"legend":{"color":"independent"}},
  "hconcat":[
  {"width":113,"height":137,"data":{"name":"ecdf"},"transform":[{"filter":"datum.p==='e1'"},{"flatten":["t","v"]}],"mark":{"type":"line","strokeWidth":2},
   "encoding":{"x":{"field":"t","type":"quantitative","scale":{"domain":[0,200]},"axis":{"values":[0,50,100,150,200],"title":"Time after stimulation (s)","domainWidth":2.5,"tickSize":4,"tickWidth":1.5,"labelFontSize":10.5,"titlePadding":4,"labelFlush":false}},
   "y":{"field":"v","type":"quantitative","scale":{"domain":[0,1.08]},"axis":{"values":[0,0.25,0.5,0.75,1],"labelExpr":"datum.value===0?'0':format(datum.value,'.2f')","title":["Probability of REM sleep-to-wake","transition after 1 Hz light stimulation"],"titleFontSize":10,"titleLineHeight":17,"domainWidth":2.5,"tickSize":4,"tickWidth":1.5,"labelFontSize":10.5,"titlePadding":4}},
   "color":{"field":"s","type":"nominal","scale":{"domain":["ChR2","mCherry"],"range":["#6AA6DE","#E8232B"]},"legend":{"orient":"none","legendX":52,"legendY":97,"title":null,"symbolType":"stroke","symbolStrokeWidth":2.5,"symbolSize":160,"labelFontSize":10.5,"rowPadding":0,"labelOffset":4,"encode":{"labels":{"update":{"fill":{"signal":"datum.value==='ChR2'?'#6AA6DE':'#E8232B'"}}}}}}}},
  {"width":113,"height":137,"data":{"name":"ecdf"},"transform":[{"filter":"datum.p==='e2'"},{"flatten":["t","v"]}],"mark":{"type":"line","strokeWidth":2},
   "encoding":{"x":{"field":"t","type":"quantitative","scale":{"domain":[0,200]},"axis":{"values":[0,50,100,150,200],"title":"Time after stimulation (s)","domainWidth":2.5,"tickSize":4,"tickWidth":1.5,"labelFontSize":10.5,"titlePadding":4,"labelFlush":false}},
   "y":{"field":"v","type":"quantitative","scale":{"domain":[0,1.08]},"axis":{"values":[0,0.25,0.5,0.75,1],"labelExpr":"datum.value===0?'0':format(datum.value,'.2f')","title":["Probability of REM sleep-to-wake","transition after 20 Hz light stimulation"],"titleFontSize":10,"titleLineHeight":17,"domainWidth":2.5,"tickSize":4,"tickWidth":1.5,"labelFontSize":10.5,"titlePadding":4}},
   "color":{"field":"s","type":"nominal","scale":{"domain":["ChR2","mCherry"],"range":["#6AA6DE","#E8232B"]},"legend":{"orient":"none","legendX":56,"legendY":97,"title":null,"symbolType":"stroke","symbolStrokeWidth":2.5,"symbolSize":160,"labelFontSize":10.5,"rowPadding":0,"labelOffset":4,"encode":{"labels":{"update":{"fill":{"signal":"datum.value==='ChR2'?'#6AA6DE':'#E8232B'"}}}}}}}}
 ]}
]}
]
}
